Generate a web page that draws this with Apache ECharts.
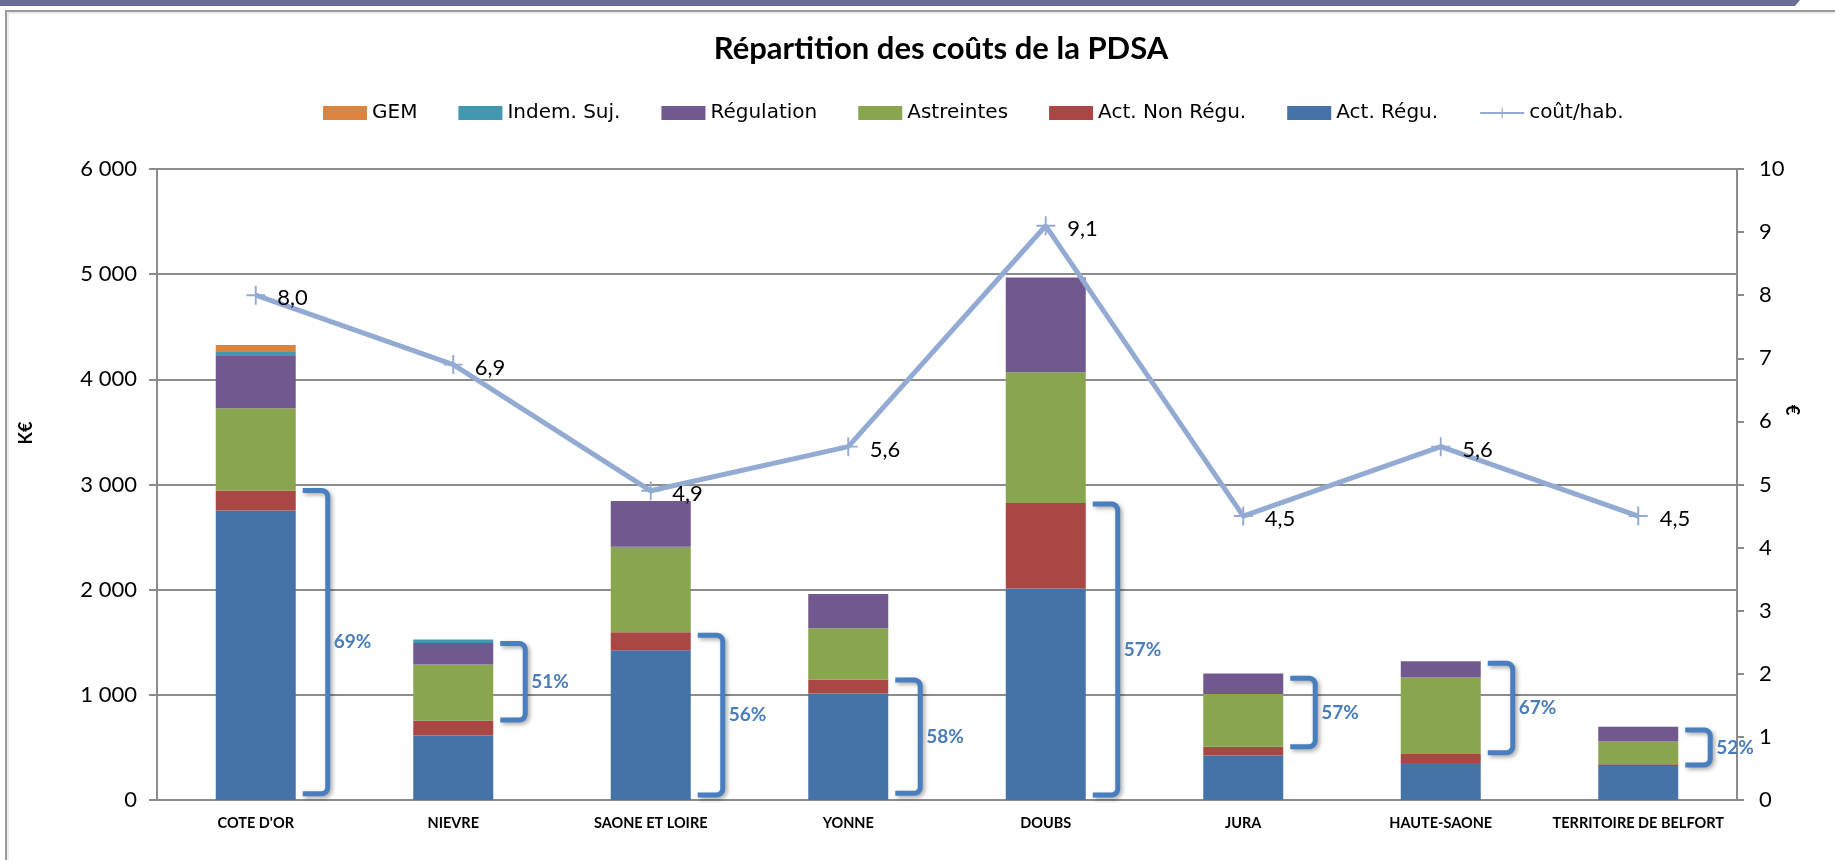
<!DOCTYPE html>
<html>
<head>
<meta charset="utf-8">
<script src="https://cdn.jsdelivr.net/npm/echarts@6/dist/echarts.min.js"></script>
<style>
    html, body { margin: 0; padding: 0; background: #fff; }
    #chart { width: 1835px; height: 860px; }
</style>
</head>
<body>
<div id="chart"></div>
<script>
    'use strict';

    // data (K€ per department, stacked)
    const categories = ["COTE D'OR", 'NIEVRE', 'SAONE ET LOIRE', 'YONNE', 'DOUBS', 'JURA', 'HAUTE-SAONE', 'TERRITOIRE DE BELFORT'];
    const actRegu    = [2753, 614, 1424, 1013, 2010, 424, 351, 323];
    const actNonRegu = [190, 139, 171, 132, 813, 82, 86, 16];
    const astreintes = [782, 535, 813, 488, 1244, 503, 728, 218];
    const regulation = [497, 206, 434, 326, 901, 194, 155, 139];
    const indemSuj   = [38, 31, 0, 0, 0, 0, 0, 0];
    const gem        = [66, 0, 0, 0, 0, 0, 0, 0];
    const coutHab    = [8.0, 6.9, 4.9, 5.6, 9.1, 4.5, 5.6, 4.5];

    // brackets drawn beside the bars
    const bracketLow  = [60, 760, 48, 63, 48, 507, 450, 333];
    const bracketHigh = [2943, 1488, 1567, 1141, 2814, 1157, 1300, 666];
    const bracketText = ['69%', '51%', '56%', '58%', '57%', '57%', '67%', '52%'];

    const FONT = 'Lato, "Open Sans", sans-serif';
    const WIDE = '"DejaVu Sans", sans-serif';
    const GRID = '#8c8c8c';
    const LINE_COL = '#93abd3';
    const BRACKET_COL = '#4a7fbf';
    const BAR_RATIO = 0.405;

    const fmtK = (v) => String(v).replace(/\B(?=(\d{3})+(?!\d))/g, ' ');
    const fmtDec = (v) => v.toFixed(1).replace('.', ',');

    function bar(name, data, color) {
        return {
            name: name,
            type: 'bar',
            stack: 'cost',
            barWidth: (BAR_RATIO * 100) + '%',
            itemStyle: { color: color },
            data: data
        };
    }

    // bracket "]" with rounded corners and the percentage on its right
    function renderBracket(params, api) {
        const i = params.dataIndex;
        const lo = api.coord([api.value(0), api.value(1)]);
        const hi = api.coord([api.value(0), api.value(2)]);
        const half = api.size([1, 0])[0] * BAR_RATIO / 2;
        const x0 = lo[0] + half + 7;
        const x1 = x0 + 25;
        const r = 6;
        let pts = [[x0, hi[1]]];
        for (let k = 0; k <= 4; k++) {
            let a = Math.PI / 2 * k / 4;
            pts.push([x1 - r + r * Math.sin(a), hi[1] + r - r * Math.cos(a)]);
        }
        for (let k = 0; k <= 4; k++) {
            let a = Math.PI / 2 * k / 4;
            pts.push([x1 - r + r * Math.cos(a), lo[1] - r + r * Math.sin(a)]);
        }
        pts.push([x0, lo[1]]);
        return {
            type: 'group',
            children: [{
                type: 'polyline',
                shape: { points: pts },
                style: {
                    stroke: BRACKET_COL, lineWidth: 5, fill: null, lineJoin: 'round', lineCap: 'butt',
                    shadowBlur: 4, shadowOffsetX: 2, shadowOffsetY: 2, shadowColor: 'rgba(0,0,0,0.35)'
                }
            }, {
                type: 'text',
                x: x1 + 6,
                y: (lo[1] + hi[1]) / 2,
                style: {
                    text: bracketText[i], fill: '#4a7dba', font: 'bold 19px ' + FONT,
                    textAlign: 'left', textVerticalAlign: 'middle'
                }
            }]
        };
    }

    const chart = echarts.init(document.getElementById('chart'));
    chart.setOption({
        backgroundColor: '#fff',
        animation: false,
        textStyle: { fontFamily: FONT },
        title: {
            text: 'Répartition des coûts de la PDSA',
            left: 936, top: 28, textAlign: 'center',
            textStyle: { fontSize: 31, fontWeight: 'bold', color: '#000', fontFamily: FONT }
        },
        legend: {
            left: 318, top: 98,
            itemWidth: 44, itemHeight: 14, itemGap: 41,
            textStyle: { fontSize: 20, color: '#000', fontFamily: WIDE },
            data: [
                { name: 'GEM', icon: 'rect' },
                { name: 'Indem. Suj.', icon: 'rect' },
                { name: 'Régulation', icon: 'rect' },
                { name: 'Astreintes', icon: 'rect' },
                { name: 'Act. Non Régu.', icon: 'rect' },
                { name: 'Act. Régu.', icon: 'rect' },
                'coût/hab.'
            ]
        },
        grid: { left: 157, right: 98, top: 169, bottom: 60 },
        xAxis: {
            type: 'category',
            data: categories,
            axisLine: { lineStyle: { color: GRID, width: 2 } },
            axisTick: { length: 6, lineStyle: { color: GRID, width: 2 } },
            axisLabel: { color: '#000', fontSize: 14.5, fontWeight: 'bold', margin: 16, interval: 0 }
        },
        yAxis: [{
            type: 'value', min: 0, max: 6000, interval: 1000,
            axisLine: { show: true, lineStyle: { color: GRID, width: 2 } },
            axisTick: { show: true, length: 8, lineStyle: { color: GRID, width: 2 } },
            splitLine: { lineStyle: { color: GRID, width: 2 } },
            axisLabel: { color: '#000', fontSize: 22, margin: 20, formatter: fmtK }
        }, {
            type: 'value', min: 0, max: 10, interval: 1,
            axisLine: { show: true, lineStyle: { color: GRID, width: 2 } },
            axisTick: { show: true, length: 7, lineStyle: { color: GRID, width: 2 } },
            splitLine: { show: false },
            axisLabel: { color: '#000', fontSize: 22, margin: 22 }
        }],
        graphic: [
            { type: 'polygon', shape: { points: [[0, 0], [1800, 0], [1795, 6], [0, 6]] }, style: { fill: '#686e96' } },
            { type: 'polyline', shape: { points: [[6, 860], [6, 11], [1835, 11]] }, style: { stroke: '#9a9a9a', lineWidth: 2, fill: null } },
            { type: 'polyline', shape: { points: [[8, 860], [8, 13], [1835, 13]] }, style: { stroke: '#d8d8d8', lineWidth: 1, fill: null } },
            {
                type: 'text', x: 26, y: 433, rotation: Math.PI / 2,
                style: { text: 'K€', font: 'bold 18px ' + FONT, fill: '#000', textAlign: 'center', textVerticalAlign: 'middle' }
            },
            {
                type: 'text', x: 1792, y: 410, rotation: -Math.PI / 2,
                style: { text: '€', font: 'bold 18px ' + FONT, fill: '#000', textAlign: 'center', textVerticalAlign: 'middle' }
            }
        ],
        series: [
            bar('Act. Régu.', actRegu, '#4572a7'),
            bar('Act. Non Régu.', actNonRegu, '#aa4643'),
            bar('Astreintes', astreintes, '#89a54e'),
            bar('Régulation', regulation, '#71588f'),
            bar('Indem. Suj.', indemSuj, '#4198af'),
            bar('GEM', gem, '#db843d'),
            {
                name: 'coût/hab.',
                type: 'line',
                yAxisIndex: 1,
                data: coutHab,
                symbol: 'path://M9,0 h2 v9 h9 v2 h-9 v9 h-2 v-9 h-9 v-2 h9 z',
                symbolSize: 19,
                lineStyle: { color: LINE_COL, width: 5 },
                itemStyle: { color: LINE_COL },
                label: {
                    show: true, position: 'right', distance: 12, offset: [0, 3],
                    color: '#000', fontSize: 22, formatter: (p) => fmtDec(p.value)
                },
                z: 5
            },
            {
                type: 'custom',
                renderItem: renderBracket,
                clip: false,
                encode: { x: 0, y: [1, 2] },
                data: categories.map((c, i) => [i, bracketLow[i], bracketHigh[i]]),
                z: 4,
                silent: true
            }
        ]
    });
</script>
</body>
</html>
